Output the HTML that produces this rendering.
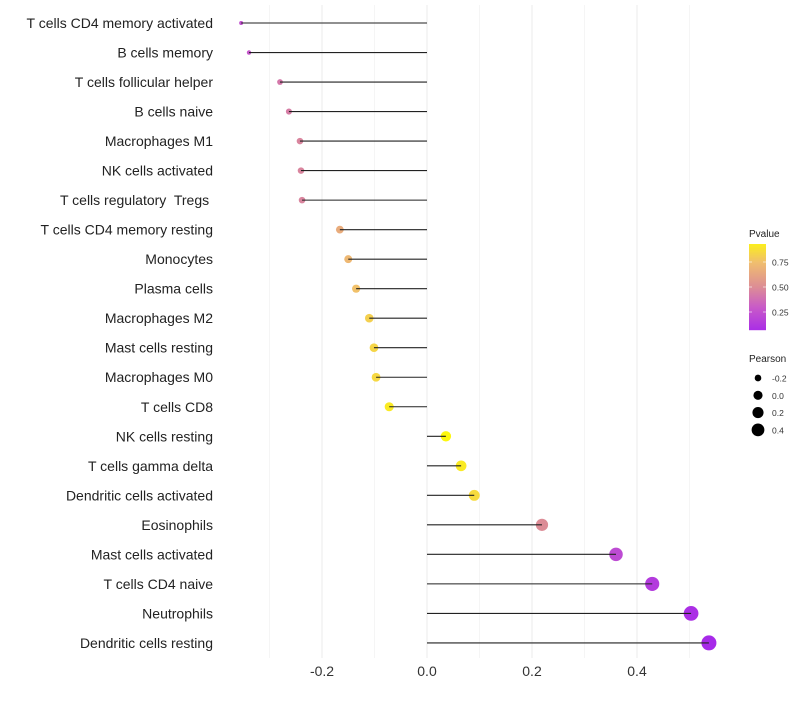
<!DOCTYPE html>
<html><head><meta charset="utf-8"><style>
body{margin:0;background:#fff;font-family:"Liberation Sans",sans-serif}
text{white-space:pre}
</style></head><body>
<svg id="chart" width="800" height="700" xmlns="http://www.w3.org/2000/svg"></svg>
<script>
const categories=["T cells CD4 memory activated","B cells memory","T cells follicular helper","B cells naive","Macrophages M1","NK cells activated","T cells regulatory  Tregs ","T cells CD4 memory resting","Monocytes","Plasma cells","Macrophages M2","Mast cells resting","Macrophages M0","T cells CD8","NK cells resting","T cells gamma delta","Dendritic cells activated","Eosinophils","Mast cells activated","T cells CD4 naive","Neutrophils","Dendritic cells resting"];
const pearson=[-0.354,-0.339,-0.280,-0.263,-0.242,-0.240,-0.238,-0.166,-0.150,-0.135,-0.110,-0.101,-0.097,-0.072,0.036,0.065,0.090,0.219,0.360,0.429,0.503,0.537];
const pvalue=[0.25,0.28,0.42,0.44,0.47,0.47,0.47,0.66,0.72,0.76,0.82,0.84,0.85,0.92,0.97,0.92,0.86,0.50,0.22,0.14,0.08,0.05];
const xTicks=[-0.2,0,0.2,0.4];
const xTickLabels=["-0.2","0.0","0.2","0.4"];
const colorTicks=[0.25,0.5,0.75];
const sizeLegend=[-0.2,0,0.2,0.4];

const svg=document.getElementById('chart');
const NS="http://www.w3.org/2000/svg";
function mk(t,a,p){const e=document.createElementNS(NS,t);for(const k in a)e.setAttribute(k,a[k]);(p||svg).appendChild(e);return e;}
const x=v=>427+v*525;
const y=i=>23+i*29.52;
const stops=[[0,[160,32,240]],[0.3,[200,90,200]],[0.5,[220,140,150]],[0.75,[240,190,110]],[1,[255,255,0]]];
function col(p){p=Math.max(0,Math.min(1,p));for(let i=1;i<stops.length;i++){if(p<=stops[i][0]){const a=stops[i-1],b=stops[i],t=(p-a[0])/(b[0]-a[0]);return `rgb(${a[1].map((c,j)=>Math.round(c+(b[1][j]-c)*t)).join(',')})`;}}return 'rgb(255,255,0)';}
const pmin=Math.min(...pearson),pmax=Math.max(...pearson);
const r=v=>Math.sqrt(2*2+(v-pmin)/(pmax-pmin)*(7.5*7.5-2*2));

for(let v=-0.3;v<=0.55;v+=0.1){const major=Math.abs(Math.round(v*10))%2==0;const g=mk('line',{x1:x(v),x2:x(v),y1:5,y2:658,stroke:major?'#ebebeb':'#f3f3f3','stroke-width':major?1:0.8});

}
xTicks.forEach((v,i)=>{const t=mk('text',{x:x(v),y:676,'text-anchor':'middle','font-size':14,fill:'#333'});t.textContent=xTickLabels[i];

});
categories.forEach((c,i)=>{
const t=mk('text',{x:213,y:y(i)+5,'text-anchor':'end','font-size':14,fill:'#222'});t.textContent=c;


const d=mk('circle',{cx:x(pearson[i]),cy:y(i),r:r(pearson[i]),fill:col(pvalue[i])});


const l=mk('line',{x1:x(0),x2:x(pearson[i]),y1:y(i),y2:y(i),stroke:'#222','stroke-width':1.1});


});
const lt=mk('text',{x:749,y:237,'font-size':10,fill:'#222'});lt.textContent='Pvalue';


for(let py=244;py<330;py++){const p=(337-py)/100;const s=mk('rect',{x:749,y:py,width:17,height:1.2,fill:col(p)});

}
colorTicks.forEach(p=>{const yy=337-p*100;mk('line',{x1:749,x2:752,y1:yy,y2:yy,stroke:'#fff','stroke-width':0.6});mk('line',{x1:763,x2:766,y1:yy,y2:yy,stroke:'#fff','stroke-width':0.6});
const t=mk('text',{x:772,y:yy+3.5,'font-size':8.5,fill:'#333'});t.textContent=p.toFixed(2);

});
const st=mk('text',{x:749,y:362,'font-size':10,fill:'#222'});st.textContent='Pearson';


sizeLegend.forEach((v,i)=>{const yy=378+i*17.3;const c=mk('circle',{cx:758,cy:yy,r:r(v)*0.92,fill:'#000'});


const t=mk('text',{x:772,y:yy+3.5,'font-size':8.5,fill:'#333'});t.textContent=v.toFixed(1);

});
</script>
</body></html>
